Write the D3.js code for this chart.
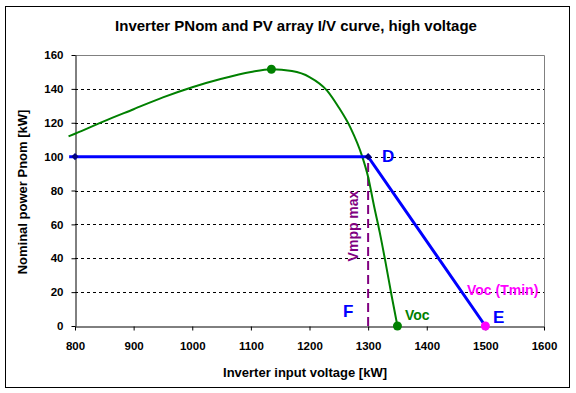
<!DOCTYPE html>
<html>
<head>
<meta charset="utf-8">
<script src="https://cdn.jsdelivr.net/npm/d3@7"></script>
<style>
  body { margin: 0; background: #fff; }
  svg text { font-family: Arial, "Liberation Sans", sans-serif; font-weight: bold; }
</style>
</head>
<body>
<div id="chart"></div>
<script>
// Chart values
const xTicks = [800, 900, 1000, 1100, 1200, 1300, 1400, 1500, 1600];
const yTicks = [0, 20, 40, 60, 80, 100, 120, 140, 160];

// PV array P/V curve (green)
const pvVoltage = [789, 800, 850, 900, 950, 1000, 1050, 1100, 1135, 1170, 1200, 1230, 1250, 1270, 1290, 1300, 1310, 1320, 1330, 1340, 1350];
const pvPower   = [112, 113.5, 121, 128, 135, 141, 146, 150, 151.6, 150.5, 147, 139, 129, 117, 100, 88, 71, 55, 37, 18, 0];

// Inverter PNom limit (blue)
const invVoltage = [790, 800, 1300, 1500];
const invPower   = [100, 100, 100, 0];

// Vmpp max dashed line
const vmppVoltage = [1300, 1300];
const vmppPower   = [0, 97];

// highlighted points
const pmax = { v: 1135, p: 151.6 };
const voc = { v: 1350, p: 0 };
const vocTmin = { v: 1500, p: 0 };

const width = 576;
const height = 393;
const marginTop = 55;
const marginRight = 32;
const marginBottom = 67;
const marginLeft = 75;

const svg = d3.select("#chart").append("svg")
    .attr("width", width)
    .attr("height", height);

// outer frame
svg.append("rect")
    .attr("x", 5.5).attr("y", 6.5)
    .attr("width", 564).attr("height", 381)
    .attr("fill", "#fff")
    .attr("stroke", "#000")
    .attr("stroke-width", 1);

const xscale = d3.scaleLinear()
    .domain([800, 1600])
    .range([marginLeft, width - marginRight]);

const yscale = d3.scaleLinear()
    .domain([0, 160])
    .range([height - marginBottom, marginTop]);

// title
svg.append("text")
    .attr("x", 296).attr("y", 31)
    .attr("text-anchor", "middle")
    .style("font-size", "15px")
    .text("Inverter PNom and PV array I/V curve, high voltage");

// gridlines (dashed) between 20 and 140
svg.append("g")
    .selectAll("line")
    .data(yTicks.filter(d => d > 0 && d < 160))
    .join("line")
    .attr("x1", xscale(800)).attr("x2", xscale(1600))
    .attr("y1", d => Math.round(yscale(d)) + 0.5)
    .attr("y2", d => Math.round(yscale(d)) + 0.5)
    .attr("stroke", "#000")
    .attr("stroke-dasharray", "3,3");

// plot-area border top and right (gray)
svg.append("path")
    .attr("d", `M${xscale(800)},${Math.round(yscale(160)) + 0.5}H${Math.round(xscale(1600)) + 0.5}V${yscale(0)}`)
    .attr("fill", "none")
    .attr("stroke", "#808080");

// x axis
const xAxis = svg.append("g")
    .attr("transform", `translate(0, ${Math.round(yscale(0)) + 0.5})`)
    .call(d3.axisBottom(xscale).tickValues(xTicks).tickFormat(d3.format("d"))
        .tickSize(4).tickSizeOuter(0).tickPadding(11));

// y axis
const yAxis = svg.append("g")
    .attr("transform", `translate(${Math.round(xscale(800)) + 0.5},0)`)
    .call(d3.axisLeft(yscale).tickValues(yTicks).tickFormat(d3.format("d"))
        .tickSize(4).tickSizeOuter(0).tickPadding(8));

[xAxis, yAxis].forEach(ax => {
    ax.selectAll("text").style("font-size", "11.5px").attr("fill", "#000");
    ax.selectAll("line").attr("stroke", "#000");
    ax.select(".domain").attr("stroke", "#000");
});

// axis titles
svg.append("text")
    .attr("x", 305).attr("y", 377)
    .attr("text-anchor", "middle")
    .style("font-size", "13px")
    .text("Inverter input voltage [kW]");

svg.append("text")
    .attr("transform", `translate(27, 192) rotate(-90)`)
    .attr("text-anchor", "middle")
    .style("font-size", "13px")
    .text("Nominal power Pnom [kW]");

const line = d3.line()
    .x(d => xscale(d[0]))
    .y(d => yscale(d[1]));

// Vmpp max dashed line
svg.append("path")
    .attr("d", line(d3.zip(vmppVoltage, vmppPower)))
    .attr("fill", "none")
    .attr("stroke", "#800080")
    .attr("stroke-width", 2)
    .attr("stroke-dasharray", "9,5");

// PV curve
svg.append("path")
    .attr("d", line.curve(d3.curveMonotoneX)(d3.zip(pvVoltage, pvPower)))
    .attr("fill", "none")
    .attr("stroke", "#008000")
    .attr("stroke-width", 2);
line.curve(d3.curveLinear);

// inverter limit
svg.append("path")
    .attr("d", line(d3.zip(invVoltage, invPower)))
    .attr("fill", "none")
    .attr("stroke", "#0000ff")
    .attr("stroke-width", 3);

// small markers on the blue line
svg.append("g")
    .selectAll("rect")
    .data([[800, 100], [1300, 100]])
    .join("rect")
    .attr("x", d => xscale(d[0]) - 2.5)
    .attr("y", d => yscale(d[1]) - 2.5)
    .attr("width", 5).attr("height", 5)
    .attr("transform", d => `rotate(45, ${xscale(d[0])}, ${yscale(d[1])})`)
    .attr("fill", "#000080");

// circle markers
svg.append("circle")
    .attr("cx", xscale(pmax.v)).attr("cy", yscale(pmax.p))
    .attr("r", 4.5).attr("fill", "#008000");
svg.append("circle")
    .attr("cx", xscale(voc.v)).attr("cy", yscale(voc.p))
    .attr("r", 4.5).attr("fill", "#008000");
svg.append("circle")
    .attr("cx", xscale(vocTmin.v)).attr("cy", yscale(vocTmin.p))
    .attr("r", 4.5).attr("fill", "#ff00ff");

// annotations
svg.append("text").attr("x", 382).attr("y", 162)
    .style("font-size", "17px").attr("fill", "#0000ff").text("D");
svg.append("text").attr("x", 343).attr("y", 317)
    .style("font-size", "17px").attr("fill", "#0000ff").text("F");
svg.append("text").attr("x", 493).attr("y", 323)
    .style("font-size", "17px").attr("fill", "#0000ff").text("E");
svg.append("text").attr("x", 405).attr("y", 320)
    .style("font-size", "14px").attr("fill", "#008000").text("Voc");
svg.append("text").attr("x", 467).attr("y", 295)
    .style("font-size", "14px").attr("fill", "#ff00ff").text("Voc (Tmin)");
svg.append("text")
    .attr("transform", `translate(358, 226) rotate(-90)`)
    .attr("text-anchor", "middle")
    .style("font-size", "14px")
    .attr("fill", "#800080")
    .text("Vmpp max");
</script>
</body>
</html>
